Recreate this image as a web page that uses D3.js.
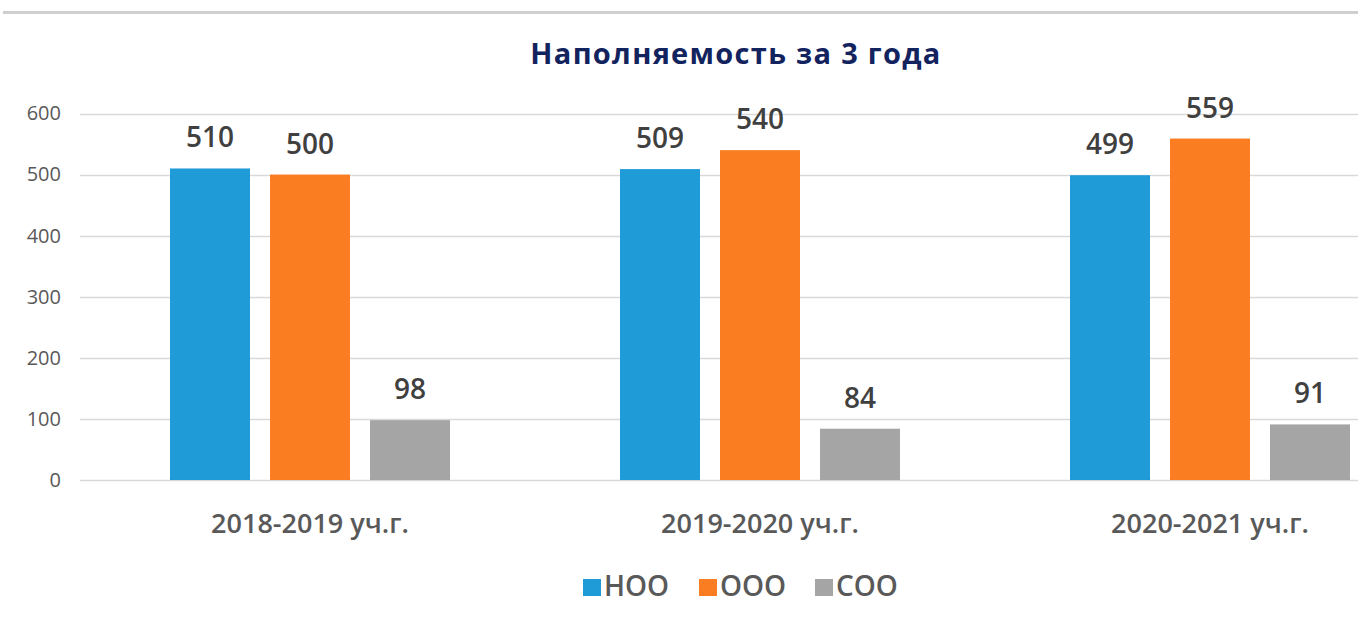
<!DOCTYPE html>
<html>
<head>
<meta charset="utf-8">
<script src="https://cdn.jsdelivr.net/npm/d3@7/dist/d3.min.js"></script>
<style>
    body { margin: 0; background: #fff; }
    svg { display: block; font-family: "Open Sans", "Noto Sans", sans-serif; }
</style>
</head>
<body>
<script>
var categories = ['2018-2019 уч.г.', '2019-2020 уч.г.', '2020-2021 уч.г.'];
var seriesNames = ['НОО', 'ООО', 'СОО'];
var nooValues = [510, 509, 499];
var oooValues = [500, 540, 559];
var sooValues = [98, 84, 91];
var yTicks = [0, 100, 200, 300, 400, 500, 600];
var seriesColors = ['#1f9bd7', '#fb7d22', '#a5a5a5'];

var W = 1358, H = 624;
var svg = d3.select('body').append('svg').attr('width', W).attr('height', H);

// thin frame line at the top (the chart is cropped from a slide)
svg.append('rect').attr('x', 3).attr('y', 11).attr('width', W).attr('height', 3).attr('fill', '#cfcfcf');

var rows = categories.map(function(c, i) {
    return { cat: c, vals: [nooValues[i], oooValues[i], sooValues[i]] };
});

var x0 = d3.scaleBand().domain(categories).range([85, 1435]).padding(0);
var x1 = d3.scaleBand().domain(seriesNames).range([0, x0.bandwidth()])
    .paddingInner(0.2).paddingOuter(0.85);
var y = d3.scaleLinear().domain([0, 600]).range([480, 113.5]);

// gridlines
svg.append('g').selectAll('line').data(yTicks).enter().append('line')
    .attr('x1', 80).attr('x2', 1435)
    .attr('y1', function(d) { return Math.round(y(d)) + 0.5; })
    .attr('y2', function(d) { return Math.round(y(d)) + 0.5; })
    .attr('stroke', '#d9d9d9').attr('stroke-width', 1.5);

// y axis labels
var yAxis = d3.axisLeft(y).tickValues(yTicks).tickSize(0).tickPadding(0);
var yg = svg.append('g').attr('transform', 'translate(61,0)').call(yAxis);
yg.select('.domain').remove();
yg.selectAll('text').attr('font-size', 20).attr('fill', '#595959')
    .attr('font-family', '"Open Sans", sans-serif');

// bars
var groups = svg.append('g').selectAll('g').data(rows).enter().append('g')
    .attr('transform', function(d) { return 'translate(' + x0(d.cat) + ',0)'; });

groups.selectAll('rect').data(function(d) {
    return d.vals.map(function(v, i) { return { name: seriesNames[i], v: v, i: i }; });
}).enter().append('rect')
    .attr('x', function(d) { return x1(d.name); })
    .attr('width', x1.bandwidth())
    .attr('y', function(d) { return y(d.v); })
    .attr('height', function(d) { return y(0) - y(d.v); })
    .attr('fill', function(d) { return seriesColors[d.i]; });

groups.selectAll('text.val').data(function(d) {
    return d.vals.map(function(v, i) { return { name: seriesNames[i], v: v }; });
}).enter().append('text').attr('class', 'val')
    .attr('x', function(d) { return x1(d.name) + x1.bandwidth() / 2; })
    .attr('y', function(d) { return y(d.v) - 21; })
    .attr('text-anchor', 'middle')
    .attr('font-size', 28).attr('font-weight', 600).attr('fill', '#404040')
    .text(function(d) { return d.v; });

// category labels
svg.append('g').selectAll('text').data(categories).enter().append('text')
    .attr('x', function(d) { return x0(d) + x0.bandwidth() / 2; })
    .attr('y', 533)
    .attr('text-anchor', 'middle')
    .attr('font-size', 27).attr('font-weight', 600).attr('fill', '#595959')
    .text(function(d) { return d; });

// title
svg.append('text').attr('x', 736).attr('y', 64).attr('text-anchor', 'middle')
    .attr('font-size', 29).attr('font-weight', 700).attr('fill', '#13235e')
    .attr('letter-spacing', 1.3)
    .text('Наполняемость за 3 года');

// legend
var legendX = [583, 699, 815];
var lg = svg.append('g').selectAll('g').data(seriesNames).enter().append('g')
    .attr('transform', function(d, i) { return 'translate(' + legendX[i] + ',579)'; });
lg.append('rect').attr('width', 18).attr('height', 17)
    .attr('fill', function(d, i) { return seriesColors[i]; });
lg.append('text').attr('x', 21).attr('y', 17)
    .attr('font-size', 28).attr('font-weight', 600).attr('fill', '#595959')
    .text(function(d) { return d; });
</script>
</body>
</html>
